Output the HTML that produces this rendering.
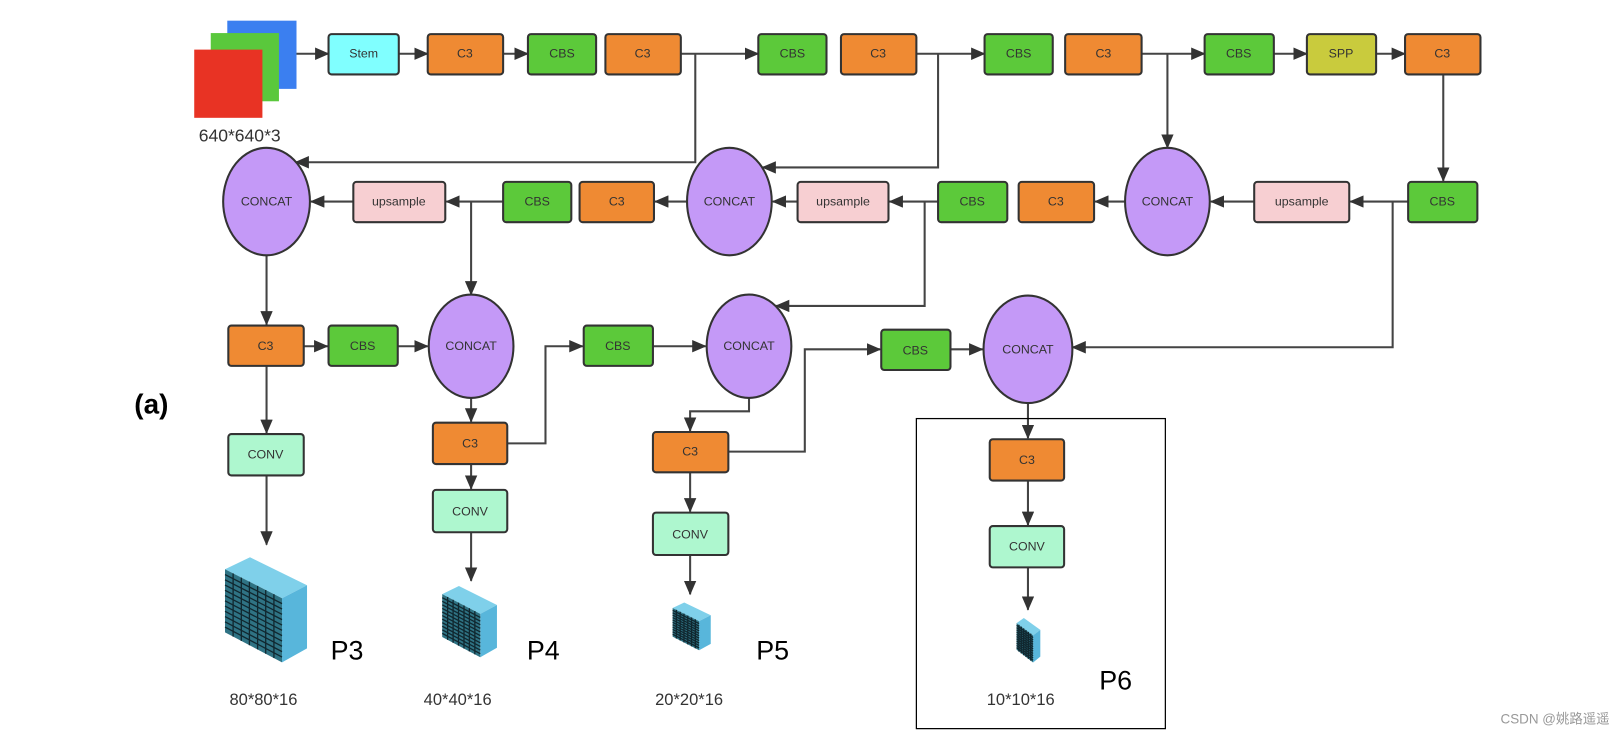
<!DOCTYPE html>
<html><head><meta charset="utf-8"><style>
html,body{margin:0;padding:0;background:#fff;}
svg{display:block;}
text{font-family:"Liberation Sans","Noto Sans CJK SC",sans-serif;}
.b{stroke:#333;stroke-width:2;}
.l{stroke:#444;stroke-width:2;fill:none;}
.t{font-size:12px;fill:#333;text-anchor:middle;dominant-baseline:central;}
</style></head><body>
<svg width="1622" height="740" viewBox="0 0 1570 716" preserveAspectRatio="none">
<defs>
<marker id="a" markerUnits="userSpaceOnUse" markerWidth="14" markerHeight="12" refX="13" refY="6" orient="auto"><path d="M0,0 L14,6 L0,12 z" fill="#333"/></marker>
<g id="cube">
<polygon points="25,49 50,37 107,65 82,78" fill="#7fd0ea"/>
<polygon points="82,78 107,65 107,128 82,142" fill="#58b6db"/>
<polygon points="25,49 82,78 82,142 25,112" fill="#2f7384"/>
<g stroke="#10272f" stroke-width="1.3" vector-effect="non-scaling-stroke">
<line x1="33.1" y1="53.1" x2="33.1" y2="116.3" vector-effect="non-scaling-stroke"/>
<line x1="41.3" y1="57.3" x2="41.3" y2="120.6" vector-effect="non-scaling-stroke"/>
<line x1="49.4" y1="61.4" x2="49.4" y2="124.9" vector-effect="non-scaling-stroke"/>
<line x1="57.6" y1="65.6" x2="57.6" y2="129.1" vector-effect="non-scaling-stroke"/>
<line x1="65.7" y1="69.7" x2="65.7" y2="133.4" vector-effect="non-scaling-stroke"/>
<line x1="73.9" y1="73.9" x2="73.9" y2="137.7" vector-effect="non-scaling-stroke"/>
<line x1="25" y1="54.25" x2="82" y2="83.3" vector-effect="non-scaling-stroke"/>
<line x1="25" y1="59.5" x2="82" y2="88.7" vector-effect="non-scaling-stroke"/>
<line x1="25" y1="64.75" x2="82" y2="94" vector-effect="non-scaling-stroke"/>
<line x1="25" y1="70" x2="82" y2="99.3" vector-effect="non-scaling-stroke"/>
<line x1="25" y1="75.25" x2="82" y2="104.7" vector-effect="non-scaling-stroke"/>
<line x1="25" y1="80.5" x2="82" y2="110" vector-effect="non-scaling-stroke"/>
<line x1="25" y1="85.75" x2="82" y2="115.3" vector-effect="non-scaling-stroke"/>
<line x1="25" y1="91" x2="82" y2="120.7" vector-effect="non-scaling-stroke"/>
<line x1="25" y1="96.25" x2="82" y2="126" vector-effect="non-scaling-stroke"/>
<line x1="25" y1="101.5" x2="82" y2="131.3" vector-effect="non-scaling-stroke"/>
<line x1="25" y1="106.75" x2="82" y2="136.7" vector-effect="non-scaling-stroke"/>
</g>
</g>
</defs>

<!-- input image -->
<rect x="220" y="20" width="67" height="66" fill="#3b7ff0"/>
<rect x="204" y="32" width="66" height="66" fill="#5ac83c"/>
<rect x="188" y="48" width="66" height="66" fill="#e83324"/>
<text x="232" y="137" font-size="17" fill="#333" text-anchor="middle">640*640*3</text>

<!-- connectors -->
<g class="l" marker-end="url(#a)">
<path d="M287,52 H318"/><path d="M386,52 H414"/><path d="M487,52 H511"/>
<path d="M659,52 H734"/><path d="M887,52 H953"/><path d="M1105,52 H1166"/>
<path d="M1233,52 H1265"/><path d="M1332,52 H1360"/>
<path d="M673,52 V157 H286"/>
<path d="M908,52 V162 H738"/>
<path d="M1130,52 V143"/>
<path d="M1397,72 V175"/>
<path d="M1363,195 H1307"/><path d="M1214,195 H1172"/><path d="M1089,195 H1060"/>
<path d="M908,195 H861"/><path d="M772,195 H748"/><path d="M665,195 H634"/>
<path d="M487,195 H432"/><path d="M342,195 H301"/>
<path d="M456,195 V285"/>
<path d="M895,195 V296 H751"/>
<path d="M1348,195 V336 H1038"/>
<path d="M258,247 V314"/>
<path d="M294,335 H317"/><path d="M385,335 H414"/>
<path d="M456,385 V408"/>
<path d="M491,429 H528 V335 H564"/>
<path d="M632,335 H683"/>
<path d="M725,385 V398 H668 V417"/>
<path d="M705,437 H779 V338 H852"/>
<path d="M920,338 H951"/>
<path d="M995,390 V424"/><path d="M995,465 V508"/><path d="M995,549 V590"/>
<path d="M258,354 V419"/><path d="M258,460 V527"/>
<path d="M456,449 V473"/><path d="M456,515 V562"/>
<path d="M668,457 V495"/><path d="M668,537 V575"/>
</g>

<!-- top row -->
<rect class="b" x="318" y="33" width="68" height="39" rx="3" fill="#80ffff"/><text class="t" x="352" y="52">Stem</text>
<rect class="b" x="414" y="33" width="73" height="39" rx="3" fill="#ef8a33"/><text class="t" x="450" y="52">C3</text>
<rect class="b" x="511" y="33" width="66" height="39" rx="3" fill="#5cc93a"/><text class="t" x="544" y="52">CBS</text>
<rect class="b" x="586" y="33" width="73" height="39" rx="3" fill="#ef8a33"/><text class="t" x="622" y="52">C3</text>
<rect class="b" x="734" y="33" width="66" height="39" rx="3" fill="#5cc93a"/><text class="t" x="767" y="52">CBS</text>
<rect class="b" x="814" y="33" width="73" height="39" rx="3" fill="#ef8a33"/><text class="t" x="850" y="52">C3</text>
<rect class="b" x="953" y="33" width="66" height="39" rx="3" fill="#5cc93a"/><text class="t" x="986" y="52">CBS</text>
<rect class="b" x="1031" y="33" width="74" height="39" rx="3" fill="#ef8a33"/><text class="t" x="1068" y="52">C3</text>
<rect class="b" x="1166" y="33" width="67" height="39" rx="3" fill="#5cc93a"/><text class="t" x="1199" y="52">CBS</text>
<rect class="b" x="1265" y="33" width="67" height="39" rx="3" fill="#c9cb3d"/><text class="t" x="1298" y="52">SPP</text>
<rect class="b" x="1360" y="33" width="73" height="39" rx="3" fill="#ef8a33"/><text class="t" x="1396" y="52">C3</text>

<!-- row 2 -->
<ellipse class="b" cx="258" cy="195" rx="42" ry="52" fill="#c499f7"/><text class="t" x="258" y="195">CONCAT</text>
<rect class="b" x="342" y="176" width="89" height="39" rx="3" fill="#f7cfd2"/><text class="t" x="386" y="195">upsample</text>
<rect class="b" x="487" y="176" width="66" height="39" rx="3" fill="#5cc93a"/><text class="t" x="520" y="195">CBS</text>
<rect class="b" x="561" y="176" width="72" height="39" rx="3" fill="#ef8a33"/><text class="t" x="597" y="195">C3</text>
<ellipse class="b" cx="706" cy="195" rx="41" ry="52" fill="#c499f7"/><text class="t" x="706" y="195">CONCAT</text>
<rect class="b" x="772" y="176" width="88" height="39" rx="3" fill="#f7cfd2"/><text class="t" x="816" y="195">upsample</text>
<rect class="b" x="908" y="176" width="67" height="39" rx="3" fill="#5cc93a"/><text class="t" x="941" y="195">CBS</text>
<rect class="b" x="986" y="176" width="73" height="39" rx="3" fill="#ef8a33"/><text class="t" x="1022" y="195">C3</text>
<ellipse class="b" cx="1130" cy="195" rx="41" ry="52" fill="#c499f7"/><text class="t" x="1130" y="195">CONCAT</text>
<rect class="b" x="1214" y="176" width="92" height="39" rx="3" fill="#f7cfd2"/><text class="t" x="1260" y="195">upsample</text>
<rect class="b" x="1363" y="176" width="67" height="39" rx="3" fill="#5cc93a"/><text class="t" x="1396" y="195">CBS</text>

<!-- row 3 -->
<rect class="b" x="221" y="315" width="73" height="39" rx="3" fill="#ef8a33"/><text class="t" x="257" y="335">C3</text>
<rect class="b" x="318" y="315" width="67" height="39" rx="3" fill="#5cc93a"/><text class="t" x="351" y="335">CBS</text>
<ellipse class="b" cx="456" cy="335" rx="41" ry="50" fill="#c499f7"/><text class="t" x="456" y="335">CONCAT</text>
<rect class="b" x="565" y="315" width="67" height="39" rx="3" fill="#5cc93a"/><text class="t" x="598" y="335">CBS</text>
<ellipse class="b" cx="725" cy="335" rx="41" ry="50" fill="#c499f7"/><text class="t" x="725" y="335">CONCAT</text>
<rect class="b" x="853" y="319" width="67" height="39" rx="3" fill="#5cc93a"/><text class="t" x="886" y="339">CBS</text>
<ellipse class="b" cx="995" cy="338" rx="43" ry="52" fill="#c499f7"/><text class="t" x="995" y="338">CONCAT</text>

<rect class="b" x="419" y="409" width="72" height="40" rx="3" fill="#ef8a33"/><text class="t" x="455" y="429">C3</text>
<rect class="b" x="632" y="418" width="73" height="39" rx="3" fill="#ef8a33"/><text class="t" x="668" y="437">C3</text>
<rect class="b" x="958" y="425" width="72" height="40" rx="3" fill="#ef8a33"/><text class="t" x="994" y="445">C3</text>

<rect class="b" x="221" y="420" width="73" height="40" rx="3" fill="#aef7cf"/><text class="t" x="257" y="440">CONV</text>
<rect class="b" x="419" y="474" width="72" height="41" rx="3" fill="#aef7cf"/><text class="t" x="455" y="495">CONV</text>
<rect class="b" x="632" y="496" width="73" height="41" rx="3" fill="#aef7cf"/><text class="t" x="668" y="517">CONV</text>
<rect class="b" x="958" y="509" width="72" height="40" rx="3" fill="#aef7cf"/><text class="t" x="994" y="529">CONV</text>

<rect x="887" y="405" width="241" height="300" fill="none" stroke="#000" stroke-width="1.2"/>

<!-- cubes -->
<use href="#cube" transform="translate(193.6,503.4) scale(0.968)"/>
<use href="#cube" transform="translate(411.9,542.7) scale(0.646,0.657)"/>
<use href="#cube" transform="translate(639.8,566.7) scale(0.45,0.44)"/>
<use href="#cube" transform="translate(977,582.8) scale(0.28,0.41)"/>

<text x="320" y="638" font-size="26" fill="#000">P3</text>
<text x="510" y="638" font-size="26" fill="#000">P4</text>
<text x="732" y="638" font-size="26" fill="#000">P5</text>
<text x="1064" y="667" font-size="26" fill="#000">P6</text>

<text x="255" y="682" font-size="16" fill="#333" text-anchor="middle">80*80*16</text>
<text x="443" y="682" font-size="16" fill="#333" text-anchor="middle">40*40*16</text>
<text x="667" y="682" font-size="16" fill="#333" text-anchor="middle">20*20*16</text>
<text x="988" y="682" font-size="16" fill="#333" text-anchor="middle">10*10*16</text>

<text x="130" y="400" font-size="27" font-weight="bold" fill="#000">(a)</text>
<text x="1558" y="700" font-size="13" fill="#999" text-anchor="end">CSDN @姚路遥遥</text>
</svg>
</body></html>
